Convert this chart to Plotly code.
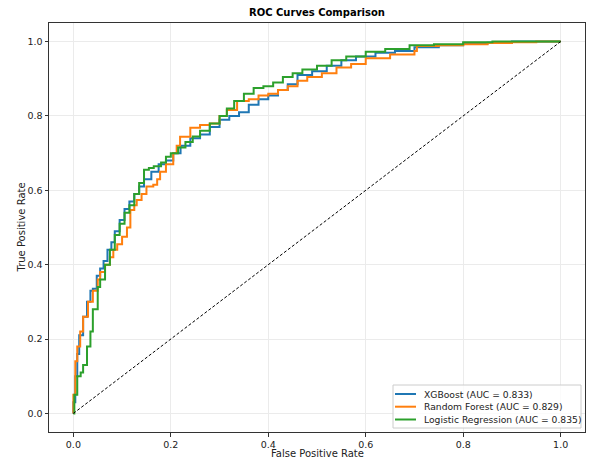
import plotly.graph_objects as go

# ---- data ----
xgb_fpr = [0, 0, 0.004, 0.008, 0.012, 0.02, 0.028, 0.035, 0.04, 0.048, 0.055, 0.062, 0.07, 0.078,
           0.085, 0.095, 0.105, 0.115, 0.125, 0.135, 0.145, 0.16, 0.175, 0.19, 0.205, 0.22, 0.24,
           0.26, 0.28, 0.30, 0.32, 0.34, 0.36, 0.38, 0.40, 0.42, 0.44, 0.46, 0.49, 0.52, 0.55, 0.58,
           0.62, 0.66, 0.70, 0.75, 0.80, 0.85, 0.90, 0.95, 1.0]
xgb_tpr = [0, 0.03, 0.10, 0.16, 0.21, 0.26, 0.30, 0.33, 0.335, 0.37, 0.39, 0.41, 0.44, 0.46,
           0.49, 0.52, 0.55, 0.57, 0.59, 0.61, 0.63, 0.65, 0.67, 0.68, 0.70, 0.72, 0.74,
           0.75, 0.77, 0.79, 0.80, 0.81, 0.83, 0.845, 0.855, 0.87, 0.885, 0.91, 0.92, 0.935, 0.95, 0.96,
           0.97, 0.975, 0.985, 0.99, 0.995, 0.997, 1.0, 1.0, 1.0]

rf_fpr = [0, 0.0, 0.004, 0.008, 0.014, 0.02, 0.03, 0.04, 0.05, 0.055, 0.065, 0.075, 0.082, 0.09,
          0.10, 0.11, 0.117, 0.125, 0.13, 0.14, 0.15, 0.164, 0.172, 0.178, 0.19, 0.205, 0.212, 0.219,
          0.24, 0.26, 0.28, 0.30, 0.315, 0.336, 0.36, 0.38, 0.40, 0.42, 0.44, 0.46, 0.48, 0.51, 0.54,
          0.57, 0.60, 0.65, 0.70, 0.705, 0.75, 0.80, 0.85, 0.90, 0.95, 1.0]
rf_tpr = [0, 0.05, 0.14, 0.18, 0.22, 0.26, 0.30, 0.33, 0.36, 0.38, 0.40, 0.42, 0.44, 0.455,
          0.475, 0.50, 0.547, 0.56, 0.574, 0.59, 0.61, 0.615, 0.63, 0.65, 0.67, 0.70, 0.72, 0.744,
          0.768, 0.776, 0.78, 0.80, 0.816, 0.84, 0.845, 0.855, 0.86, 0.87, 0.88, 0.895, 0.905, 0.915, 0.93,
          0.94, 0.955, 0.965, 0.975, 0.988, 0.99, 0.993, 0.996, 0.998, 1.0, 1.0]

lr_fpr = [0, 0.002, 0.008, 0.015, 0.02, 0.028, 0.035, 0.04, 0.05, 0.055, 0.065, 0.075, 0.085,
          0.095, 0.105, 0.115, 0.125, 0.135, 0.145, 0.155, 0.165, 0.18, 0.19, 0.20, 0.215, 0.23,
          0.245, 0.26, 0.28, 0.30, 0.315, 0.33, 0.35, 0.37, 0.39, 0.41, 0.43, 0.45, 0.47, 0.50, 0.53,
          0.56, 0.60, 0.64, 0.69, 0.74, 0.80, 0.86, 0.92, 1.0]
lr_tpr = [0, 0.05, 0.10, 0.11, 0.13, 0.18, 0.22, 0.28, 0.34, 0.36, 0.40, 0.44, 0.48,
          0.51, 0.54, 0.56, 0.59, 0.62, 0.655, 0.66, 0.665, 0.675, 0.69, 0.70, 0.715, 0.73,
          0.745, 0.76, 0.78, 0.80, 0.82, 0.84, 0.86, 0.875, 0.88, 0.89, 0.905, 0.915, 0.925, 0.935, 0.95,
          0.96, 0.973, 0.98, 0.99, 0.993, 0.998, 1.0, 1.0, 1.0]

diag = [0, 1]

model_names = ["XGBoost", "Random Forest", "Logistic Regression"]
auc_values = [0.833, 0.829, 0.835]
colors = ["#1f77b4", "#ff7f0e", "#2ca02c"]
tick_vals = [0.0, 0.2, 0.4, 0.6, 0.8, 1.0]
tick_text = ["0.0", "0.2", "0.4", "0.6", "0.8", "1.0"]

FONT = "DejaVu Sans"
W, H = 594, 461
ML, MR, MT, MB = 49, 9, 23, 29
PW, PH = W - ML - MR, H - MT - MB


def px_x(p):  # pixel -> paper x
    return (p - ML) / PW


def px_y(p):  # pixel -> paper y
    return (H - MB - p) / PH


fig = go.Figure()
labels = []
for name, auc, col, fx, ty in zip(model_names, auc_values, colors,
                                   [xgb_fpr, rf_fpr, lr_fpr], [xgb_tpr, rf_tpr, lr_tpr]):
    lab = f"{name} (AUC = {auc:.3f})"
    labels.append(lab)
    fig.add_trace(go.Scatter(x=fx, y=ty, mode="lines", line=dict(color=col, width=2, shape="hv"),
                             name=lab, showlegend=False))

fig.add_trace(go.Scatter(x=diag, y=diag, mode="lines", showlegend=False,
                         line=dict(color="black", width=1, dash="3px,2px")))

axis_common = dict(
    range=[-0.05, 1.05], tickvals=tick_vals, ticktext=tick_text, automargin=False,
    showgrid=True, gridcolor="#ebebeb", gridwidth=1, zeroline=False,
    showline=True, linecolor="#333333", linewidth=1, mirror=True,
    ticks="outside", ticklen=3.5, tickwidth=1, tickcolor="#333333",
    tickfont=dict(family=FONT, size=9.5, color="#222"),
)

# manual matplotlib-like legend
shapes = [dict(type="rect", xref="paper", yref="paper",
               x0=px_x(393), x1=px_x(581), y0=px_y(428), y1=px_y(385),
               fillcolor="rgba(255,255,255,0.8)", line=dict(color="#cccccc", width=1), layer="above")]
annotations = [
    dict(text="<b>ROC Curves Comparison</b>", xref="paper", yref="paper",
         x=0.5, y=1, xanchor="center", yanchor="bottom", yshift=3, showarrow=False,
         font=dict(family=FONT, size=10, color="black")),
    dict(text="False Positive Rate", xref="paper", yref="paper", x=0.5, y=px_y(453),
         xanchor="center", yanchor="middle", showarrow=False,
         font=dict(family=FONT, size=10, color="#222")),
    dict(text="True Positive Rate", xref="paper", yref="paper", x=px_x(21), y=0.5,
         xanchor="center", yanchor="middle", showarrow=False, textangle=-90,
         font=dict(family=FONT, size=10, color="#222")),
]
row_y = [394, 406.7, 419.5]
for lab, col, ry in zip(labels, colors, row_y):
    shapes.append(dict(type="line", xref="paper", yref="paper",
                       x0=px_x(395), x1=px_x(416), y0=px_y(ry), y1=px_y(ry),
                       line=dict(color=col, width=2), layer="above"))
    annotations.append(dict(text=lab, xref="paper", yref="paper", x=px_x(422), y=px_y(ry),
                            xanchor="left", yanchor="middle", showarrow=False,
                            font=dict(family=FONT, size=9.2, color="#222")))

fig.update_layout(
    width=W, height=H,
    margin=dict(l=ML, r=MR, t=MT, b=MB),
    paper_bgcolor="white", plot_bgcolor="white",
    font=dict(family=FONT, color="#222"),
    xaxis=axis_common, yaxis=axis_common,
    showlegend=False,
    shapes=shapes, annotations=annotations,
)

fig.write_html("out.html", config={"displayModeBar": False},
               post_script="document.body.style.margin='0px';document.body.style.overflow='hidden';")
